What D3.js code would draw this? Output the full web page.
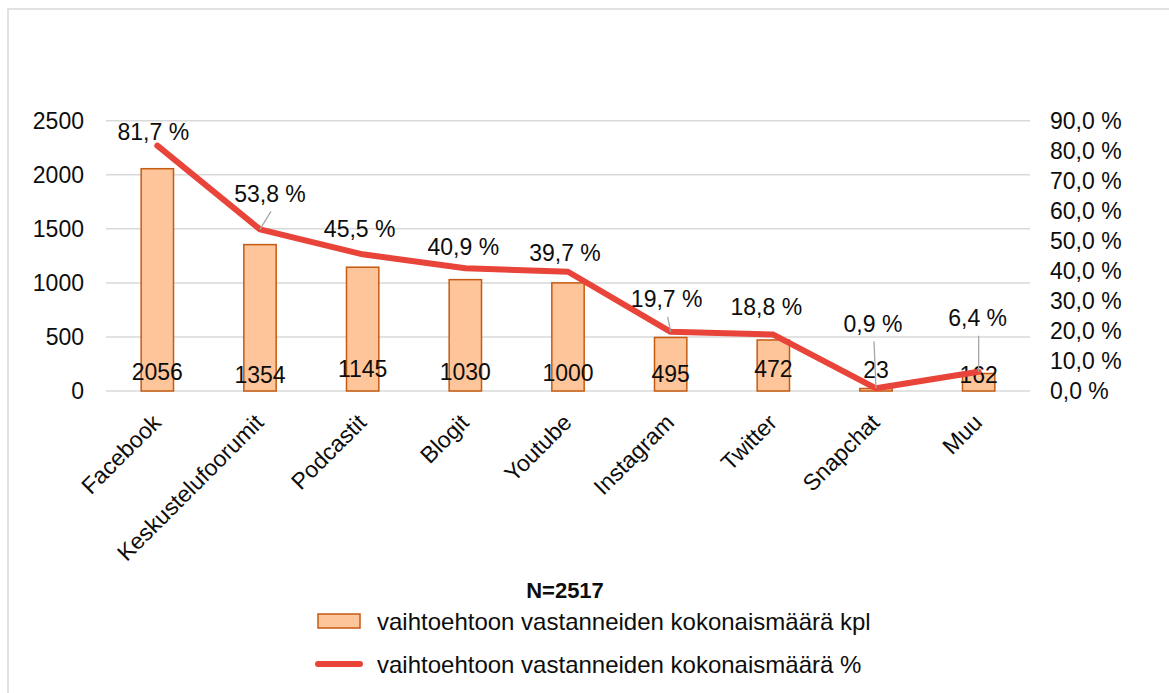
<!DOCTYPE html>
<html>
<head>
<meta charset="utf-8">
<script src="https://cdn.jsdelivr.net/npm/d3@7/dist/d3.min.js"></script>
<style>
  html, body { margin: 0; padding: 0; background: #fff; }
  svg { display: block; font-family: "Liberation Sans", Arial, sans-serif; }
</style>
</head>
<body>
<svg id="chart" width="1169" height="693"></svg>
<script>
// ---- data ----
const categories = ["Facebook", "Keskustelufoorumit", "Podcastit", "Blogit", "Youtube", "Instagram", "Twitter", "Snapchat", "Muu"];
const counts = [2056, 1354, 1145, 1030, 1000, 495, 472, 23, 162];
const percents = [81.7, 53.8, 45.5, 40.9, 39.7, 19.7, 18.8, 0.9, 6.4];
const leftTicks = [0, 500, 1000, 1500, 2000, 2500];
const rightTicks = [0, 10, 20, 30, 40, 50, 60, 70, 80, 90];
const seriesNames = ["vaihtoehtoon vastanneiden kokonaismäärä kpl", "vaihtoehtoon vastanneiden kokonaismäärä %"];
const subtitle = "N=2517";

// ---- layout (label placement, not data) ----
const pctLabelOffset = [[-4,-14],[10,-36],[-3,-26],[-2,-21],[-3,-19],[-4,-33],[-7,-28],[-3,-65],[-1,-54]];
const pctLeader = [false, true, false, false, false, true, false, true, true];
const countLabelY = [372, 375, 369, 372, 373, 374, 369, 370, 375];

const FONT = 23;
const TXT = "#0d0d0d";
const svg = d3.select("#chart");
const plot = { left: 106, right: 1030, top: 120.7, bottom: 391 };

const locale = d3.formatLocale({ decimal: ",", thousands: " ", grouping: [3], currency: ["", "€"] });
const fmtPct = v => locale.format(".1f")(v) + " %";

// frame
svg.append("rect").attr("x", 8).attr("y", 9).attr("width", 1200).attr("height", 720)
  .attr("fill", "none").attr("stroke", "#d9d9d9").attr("stroke-width", 1.5);

const x = d3.scaleBand().domain(categories).range([plot.left, plot.right])
  .paddingInner(0.685).paddingOuter(0.3425);
const yL = d3.scaleLinear().domain([0, 2500]).range([plot.bottom, plot.top]);
const yR = d3.scaleLinear().domain([0, 90]).range([plot.bottom, plot.top]);
const cx = c => x(c) + x.bandwidth() / 2;

// gridlines
svg.append("g").selectAll("line").data(leftTicks).join("line")
  .attr("x1", plot.left).attr("x2", plot.right)
  .attr("y1", d => yL(d)).attr("y2", d => yL(d))
  .attr("stroke", "#d9d9d9").attr("stroke-width", 1.5);

// left axis
const gL = svg.append("g").attr("transform", `translate(${plot.left},0)`)
  .call(d3.axisLeft(yL).tickValues(leftTicks).tickSize(0).tickPadding(22).tickFormat(d3.format("d")));
gL.select(".domain").remove();
gL.selectAll("text").attr("font-size", FONT).attr("fill", TXT).attr("font-family", "Liberation Sans, Arial, sans-serif");

// right axis
const gR = svg.append("g").attr("transform", `translate(${plot.right},0)`)
  .call(d3.axisRight(yR).tickValues(rightTicks).tickSize(0).tickPadding(20).tickFormat(fmtPct));
gR.select(".domain").remove();
gR.selectAll("text").attr("font-size", FONT).attr("fill", TXT).attr("font-family", "Liberation Sans, Arial, sans-serif");

// bottom axis
const gB = svg.append("g").attr("transform", `translate(0,${plot.bottom})`)
  .call(d3.axisBottom(x).tickSize(0));
gB.select(".domain").remove();
gB.selectAll("text")
  .attr("font-size", FONT).attr("fill", TXT).attr("font-family", "Liberation Sans, Arial, sans-serif")
  .attr("text-anchor", "end").attr("x", 0).attr("y", 0).attr("dy", 0)
  .attr("transform", "translate(5,33) rotate(-45)");

// bars
svg.append("g").selectAll("rect").data(categories).join("rect")
  .attr("x", c => x(c)).attr("width", x.bandwidth())
  .attr("y", (c, i) => yL(counts[i])).attr("height", (c, i) => yL(0) - yL(counts[i]))
  .attr("fill", "#fec59b").attr("stroke", "#c55a11").attr("stroke-width", 1.5);

// count labels
svg.append("g").selectAll("text").data(categories).join("text")
  .attr("x", c => cx(c)).attr("y", (c, i) => countLabelY[i]).attr("dy", "0.36em")
  .attr("text-anchor", "middle").attr("font-size", FONT).attr("fill", TXT)
  .text((c, i) => counts[i]);

// percent line
const pts = categories.map((c, i) => [cx(c), yR(percents[i])]);
svg.append("path").datum(pts)
  .attr("d", d3.line())
  .attr("fill", "none").attr("stroke", "#e8443a").attr("stroke-width", 6)
  .attr("stroke-linejoin", "round").attr("stroke-linecap", "round");

// leader lines
const lbl = pts.map((p, i) => [p[0] + pctLabelOffset[i][0], p[1] + pctLabelOffset[i][1]]);
svg.append("g").selectAll("line").data(categories.filter((c, i) => pctLeader[i])).join("line")
  .each(function (c) {
    const i = categories.indexOf(c);
    d3.select(this).attr("x1", lbl[i][0] + 1).attr("y1", lbl[i][1] + 18)
      .attr("x2", pts[i][0]).attr("y2", pts[i][1]);
  })
  .attr("stroke", "#a6a6a6").attr("stroke-width", 1.3);

// percent labels
svg.append("g").selectAll("text").data(categories).join("text")
  .attr("x", (c, i) => lbl[i][0]).attr("y", (c, i) => lbl[i][1]).attr("dy", "0.36em")
  .attr("text-anchor", "middle").attr("font-size", FONT).attr("fill", TXT)
  .text((c, i) => fmtPct(percents[i]));

// subtitle
svg.append("text").attr("x", 565).attr("y", 590).attr("dy", "0.36em")
  .attr("text-anchor", "middle").attr("font-size", FONT - 1).attr("font-weight", "bold")
  .attr("fill", TXT).text(subtitle);

// legend
const lg = svg.append("g");
lg.append("rect").attr("x", 318).attr("y", 614).attr("width", 42).attr("height", 14)
  .attr("fill", "#fec59b").attr("stroke", "#c55a11").attr("stroke-width", 1.5);
lg.append("text").attr("x", 377).attr("y", 621).attr("dy", "0.36em")
  .attr("font-size", FONT + 1).attr("fill", TXT).text(seriesNames[0]);
lg.append("line").attr("x1", 318).attr("x2", 360).attr("y1", 664).attr("y2", 664)
  .attr("stroke", "#e8443a").attr("stroke-width", 6).attr("stroke-linecap", "round");
lg.append("text").attr("x", 377).attr("y", 664).attr("dy", "0.36em")
  .attr("font-size", FONT + 1).attr("fill", TXT).text(seriesNames[1]);
</script>
</body>
</html>
